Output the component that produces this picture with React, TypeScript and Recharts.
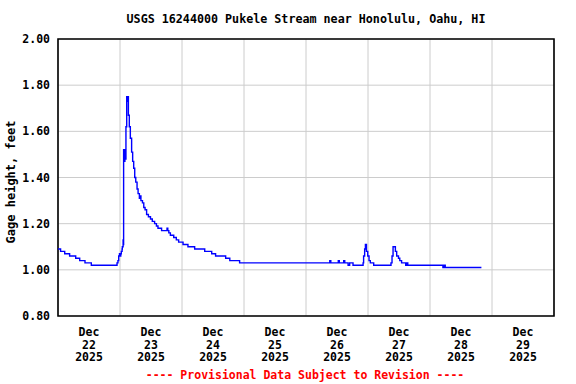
import React from "react";
import { LineChart, Line, XAxis, YAxis, CartesianGrid, ReferenceArea } from "recharts";

// hours since Dec 22 2025 00:00
const hours = [
  0, 1, 2.6, 4.5, 6.85, 8.4, 10.45, 12.9, 22.85, 23.2, 23.5, 23.8, 24.0, 24.3, 24.5, 24.8, 24.9, 25.2, 25.3,
  25.4, 25.7, 25.9, 26.1, 26.3, 26.6, 26.9, 27.1, 27.25, 27.6, 28.0, 28.5, 28.9, 29.3, 29.7, 30.1, 30.6, 31.0,
  31.5, 31.9, 32.1, 32.7, 33.2, 33.7, 34.3, 35.0, 35.8, 36.5, 37.4, 38.1, 38.7, 40.1, 42.2, 42.5, 42.9, 43.5,
  44.8, 45.8, 46.7, 48.4, 50.3, 52.9, 56.8, 59.5, 61.0, 64.9, 66.5, 70.3, 105.2, 105.6, 108.5, 108.9, 110.6,
  111.0, 112.3, 112.9, 114.2, 118.1, 118.3, 118.7, 119.0, 119.4, 119.9, 120.4, 120.9, 122.2, 128.9, 129.3,
  129.7, 130.6, 131.1, 131.8, 132.3, 133.0, 134.6, 135.0, 135.4, 149.0, 149.5, 149.9, 163.9,
];
const gage = [
  1.09, 1.08, 1.07, 1.06, 1.05, 1.04, 1.03, 1.02, 1.03, 1.04, 1.06, 1.07, 1.06, 1.07, 1.08, 1.09, 1.1, 1.13, 1.11,
  1.52, 1.47, 1.52, 1.48, 1.62, 1.75, 1.73, 1.75, 1.67, 1.62, 1.57, 1.51, 1.47, 1.44, 1.4, 1.38, 1.35, 1.33,
  1.31, 1.32, 1.3, 1.29, 1.27, 1.26, 1.24, 1.23, 1.22, 1.21, 1.2, 1.19, 1.18, 1.17, 1.18, 1.17, 1.16, 1.15,
  1.14, 1.13, 1.12, 1.11, 1.1, 1.09, 1.08, 1.07, 1.06, 1.05, 1.04, 1.03, 1.04, 1.03, 1.04, 1.03, 1.04,
  1.03, 1.02, 1.03, 1.02, 1.03, 1.06, 1.09, 1.11, 1.08, 1.06, 1.04, 1.03, 1.02, 1.03, 1.06,
  1.1, 1.08, 1.06, 1.05, 1.04, 1.03, 1.02, 1.03, 1.02, 1.01, 1.02, 1.01, 1.01,
];

const gridTicks = [0, 24, 48, 72, 96, 120, 144, 168, 192];
const labelTicks = [12, 36, 60, 84, 108, 132, 156, 180];
const dayLabels = ["22", "23", "24", "25", "26", "27", "28", "29"];
const yTicks = [0.8, 1.0, 1.2, 1.4, 1.6, 1.8, 2.0];

const title = "USGS 16244000 Pukele Stream near Honolulu, Oahu, HI";
const yLabel = "Gage height, feet";
const footer = "---- Provisional Data Subject to Revision ----";

const data = hours.map((h, i) => ({ h, v: gage[i] }));

const FONT = "'DejaVu Sans Mono', monospace";

const DateTick = (props: any) => {
  const { x, y, payload } = props;
  const idx = labelTicks.indexOf(payload.value);
  return (
    <g>
      <text x={x} y={y + 18} textAnchor="middle" fontFamily={FONT} fontWeight="bold" fontSize={11.5} fill="#000">Dec</text>
      <text x={x} y={y + 30.5} textAnchor="middle" fontFamily={FONT} fontWeight="bold" fontSize={11.5} fill="#000">{dayLabels[idx]}</text>
      <text x={x} y={y + 43} textAnchor="middle" fontFamily={FONT} fontWeight="bold" fontSize={11.5} fill="#000">2025</text>
    </g>
  );
};

const EmptyTick = () => <g />;

export default function App() {
  return (
    <div style={{ position: "absolute", left: 0, top: 0, width: 576, height: 384, background: "#fff" }}>
      <LineChart
        width={576}
        height={384}
        data={data}
        margin={{ top: 39, right: 22, left: 0, bottom: 20 }}
      >
        <CartesianGrid xAxisId="grid" stroke="#cccccc" strokeWidth={1} />
        <XAxis
          xAxisId="grid"
          dataKey="h"
          type="number"
          domain={[0, 192]}
          ticks={gridTicks}
          tick={<EmptyTick />}
          axisLine={false}
          tickLine={false}
          height={0}
          interval={0}
          allowDataOverflow
        />
        <XAxis
          xAxisId="labels"
          dataKey="h"
          type="number"
          domain={[0, 192]}
          ticks={labelTicks}
          tick={<DateTick />}
          axisLine={false}
          tickLine={false}
          tickSize={0}
          height={48}
          interval={0}
          allowDataOverflow
        />
        <YAxis
          type="number"
          domain={[0.8, 2.0]}
          ticks={yTicks}
          width={58}
          axisLine={false}
          tickLine={false}
          tickSize={0}
          tickMargin={8}
          tickFormatter={(v: number) => v.toFixed(2)}
          tick={{ fontFamily: FONT, fontWeight: "bold", fontSize: 11.5, fill: "#000" }}
          interval={0}
          allowDataOverflow
        />
        <Line
          xAxisId="labels"
          dataKey="v"
          type="stepAfter"
          stroke="#0000ff"
          strokeWidth={1.4}
          dot={false}
          isAnimationActive={false}
        />
        <ReferenceArea
          xAxisId="labels"
          x1={0}
          x2={192}
          y1={0.8}
          y2={2.0}
          fill="none"
          fillOpacity={0}
          stroke="#000"
          strokeWidth={1.6}
          ifOverflow="visible"
        />
      </LineChart>
      <svg width={576} height={384} style={{ position: "absolute", left: 0, top: 0, pointerEvents: "none" }}>
        <text x={306} y={23} textAnchor="middle" fontFamily={FONT} fontWeight="bold" fontSize={11.7} fill="#000">{title}</text>
        <text
          x={0}
          y={0}
          transform="translate(15,182) rotate(-90)"
          textAnchor="middle"
          fontFamily={FONT}
          fontWeight="bold"
          fontSize={12}
          fill="#000"
        >
          {yLabel}
        </text>
        <text x={305} y={379} textAnchor="middle" fontFamily={FONT} fontWeight="bold" fontSize={11.5} fill="#ff0000">{footer}</text>
      </svg>
    </div>
  );
}
